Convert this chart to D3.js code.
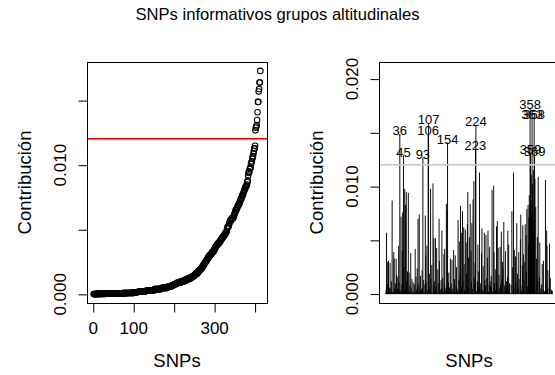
<!DOCTYPE html>
<html>
<head>
<meta charset="utf-8">
<script src="https://cdn.jsdelivr.net/npm/d3@7"></script>
<style>
  body { margin: 0; background: #fff; }
  svg { display: block; }
  text { font-family: "Liberation Sans", Arial, Helvetica, sans-serif; fill: #000; }
</style>
</head>
<body>
<svg id="chart" width="555" height="375"></svg>
<script>
// Contribution of each SNP, in SNP order (index 1..413)
const contributions = [
  0.00005, 0.0004, 0.0057, 0.00012, 0.0009, 0.0030, 0.0002, 0.0031, 0.00008, 0.0006,
  0.0003, 0.0029, 0.00003, 0.0006, 0.0012, 0.00010, 0.0087, 0.0002, 0.00015, 0.00004,
  0.0039, 0.0033, 0.0005, 0.00006, 0.0010, 0.00025, 0.0033, 0.0018, 0.00009, 0.0005,
  0.0016, 0.00002, 0.0045, 0.0011, 0.0003, 0.0149, 0.0004, 0.00007, 0.0072, 0.00018,
  0.0009, 0.0040, 0.0076, 0.00011, 0.0129, 0.0026, 0.00045, 0.0098, 0.0002, 0.0083,
  0.0005, 0.0095, 0.0012, 0.00004, 0.0021, 0.00030, 0.0094, 0.0003, 0.0020, 0.00008,
  0.0008, 0.00006, 0.0038, 0.00055, 0.00010, 0.0014, 0.00003, 0.00022, 0.0011, 0.00005,
  0.0002, 0.0009, 0.00007, 0.0042, 0.00011, 0.0016, 0.0004, 0.00002, 0.0024, 0.00065,
  0.0070, 0.00009, 0.0010, 0.0074, 0.0003, 0.00004, 0.0017, 0.00040, 0.00006, 0.0005,
  0.0022, 0.00050, 0.0127, 0.00008, 0.0013, 0.0002, 0.00005, 0.0009, 0.0073, 0.0036,
  0.0011, 0.00003, 0.0045, 0.00035, 0.00007, 0.0149, 0.0159, 0.0006, 0.0019, 0.00010,
  0.0004, 0.0098, 0.0014, 0.00005, 0.0027, 0.00015, 0.00002, 0.0103, 0.0008, 0.0052,
  0.00009, 0.0012, 0.0003, 0.0052, 0.00006, 0.00070, 0.0043, 0.0002, 0.00004, 0.0023,
  0.0010, 0.00011, 0.0070, 0.0031, 0.0002, 0.00045, 0.00008, 0.0013, 0.0005, 0.0059,
  0.00003, 0.0015, 0.00028, 0.00010, 0.0037, 0.0009, 0.0042, 0.0004, 0.00006, 0.00060,
  0.0084, 0.0003, 0.0078, 0.0141, 0.00005, 0.0011, 0.0020, 0.00009, 0.0006, 0.00016,
  0.0033, 0.00002, 0.0010, 0.0004, 0.0032, 0.00007, 0.00050, 0.00020, 0.0041, 0.00011,
  0.0014, 0.0002, 0.0036, 0.00004, 0.0008, 0.0025, 0.0005, 0.00008, 0.00030, 0.0069,
  0.00006, 0.0013, 0.0049, 0.0003, 0.0018, 0.0082, 0.00010, 0.00075, 0.0057, 0.00040,
  0.0077, 0.0012, 0.00003, 0.0062, 0.0028, 0.0004, 0.00025, 0.0060, 0.00009, 0.0048,
  0.0019, 0.00005, 0.0065, 0.0095, 0.0006, 0.0034, 0.0002, 0.0053, 0.00008, 0.0084,
  0.00007, 0.0040, 0.0011, 0.0066, 0.0005, 0.00012, 0.0088, 0.00004, 0.0105, 0.0016,
  0.0009, 0.0029, 0.0135, 0.0157, 0.0003, 0.00010, 0.00003, 0.0012, 0.0046, 0.0007,
  0.0021, 0.00002, 0.0113, 0.0005, 0.0010, 0.00008, 0.00020, 0.0038, 0.0061, 0.00011,
  0.0004, 0.0026, 0.00006, 0.00030, 0.0057, 0.0013, 0.00005, 0.0008, 0.0055, 0.00010,
  0.0015, 0.00018, 0.0034, 0.0059, 0.0002, 0.00004, 0.0009, 0.0044, 0.00003, 0.0007,
  0.0012, 0.0017, 0.0006, 0.0097, 0.00025, 0.00009, 0.00007, 0.0101, 0.0039, 0.0010,
  0.00005, 0.0023, 0.0004, 0.0003, 0.0063, 0.0011, 0.0068, 0.00007, 0.0043, 0.00011,
  0.0018, 0.00050, 0.00002, 0.0044, 0.0009, 0.00015, 0.0058, 0.0014, 0.00004, 0.0030,
  0.0024, 0.00008, 0.0067, 0.0002, 0.0008, 0.00006, 0.0040, 0.00040, 0.0007, 0.0012,
  0.00006, 0.0016, 0.0059, 0.00030, 0.0046, 0.0004, 0.0010, 0.00010, 0.00005, 0.00003,
  0.0009, 0.00005, 0.0077, 0.00002, 0.0025, 0.00020, 0.0113, 0.0006, 0.0041, 0.00009,
  0.00007, 0.0035, 0.0011, 0.00004, 0.0066, 0.0003, 0.0019, 0.00011, 0.0005, 0.0039,
  0.0014, 0.00010, 0.00008, 0.0051, 0.0074, 0.00002, 0.00025, 0.0008, 0.0027, 0.0064,
  0.00045, 0.0037, 0.0013, 0.00006, 0.0030, 0.0065, 0.00010, 0.0055, 0.0020, 0.0079,
  0.00013, 0.0007, 0.0083, 0.0047, 0.0071, 0.0092, 0.0080, 0.0173, 0.0131, 0.0085,
  0.0111, 0.0075, 0.0164, 0.0102, 0.0069, 0.0115, 0.0058, 0.0164, 0.0130, 0.0107,
  0.00004, 0.0081, 0.0002, 0.0033, 0.00007, 0.0053, 0.0012, 0.0109, 0.00003, 0.00009,
  0.0016, 0.0048, 0.0005, 0.00015, 0.00003, 0.0009, 0.00008, 0.0028, 0.00005, 0.0004,
  0.0031, 0.00006, 0.0003, 0.0002, 0.00010, 0.0106, 0.0010, 0.00030, 0.0059, 0.0045,
  0.0005, 0.0022, 0.00003, 0.00006, 0.0006, 0.0047, 0.00009, 0.0015, 0.00004, 0.00028,
  0.0004, 0.00011, 0.0003
];

// Cut-off above which a SNP counts as informative
const threshold = 0.012;

// Axis ticks and their printed labels (empty string = tick without label)
const leftXTicks = [0, 100, 200, 300, 400];
const leftXTickLabels = ["0", "100", "", "300", ""];
const leftYTicks = [0, 0.005, 0.010, 0.015];
const leftYTickLabels = ["0.000", "", "0.010", ""];
const rightYTicks = [0, 0.005, 0.010, 0.015, 0.020];
const rightYTickLabels = ["0.000", "", "0.010", "", "0.020"];

const titleText = "SNPs informativos grupos altitudinales";
const xTitle = "SNPs";
const yTitle = "Contribución";

const svg = d3.select("#chart");
const n = contributions.length;
const sorted = d3.sort(contributions);

// Plot boxes of the two panels
const leftBox = { x0: 87, x1: 267, y0: 62, y1: 303 };
const rightBox = { x0: 379, x1: 559, y0: 62, y1: 303 };

// Pad a data range by 4% on each side
function padded(lo, hi) {
  const r = hi - lo;
  return [lo - 0.04 * r, hi + 0.04 * r];
}

const xDomain = padded(1, n);
const xLeft = d3.scaleLinear().domain(xDomain).range([leftBox.x0, leftBox.x1]);
const xRight = d3.scaleLinear().domain(xDomain).range([rightBox.x0, rightBox.x1]);

const [minC, maxC] = d3.extent(contributions);
const yLeft = d3.scaleLinear().domain(padded(minC, maxC)).range([leftBox.y1, leftBox.y0]);
const yRight = d3.scaleLinear().domain(padded(0, maxC * 1.2)).range([rightBox.y1, rightBox.y0]);

const fsTick = 17, fsTitle = 18.5;

// Title
svg.append("text")
  .attr("x", 277.5).attr("y", 20)
  .attr("text-anchor", "middle")
  .attr("font-size", 16.6)
  .text(titleText);

function drawFrame(box, y, yTicks, yLabels) {
  // y axis ticks
  const gy = svg.append("g").attr("transform", `translate(${box.x0 + 0.5},0)`);
  gy.call(d3.axisLeft(y).tickValues(yTicks).tickSize(9).tickSizeOuter(0).tickFormat(""));
  gy.select(".domain").remove();
  gy.selectAll(".tick line").attr("stroke", "#000").attr("stroke-width", 1);

  // rotated y tick labels
  yTicks.forEach((t, i) => {
    if (!yLabels[i]) return;
    svg.append("text")
      .attr("transform", `translate(${box.x0 - 21.5},${y(t)}) rotate(-90)`)
      .attr("text-anchor", "middle")
      .attr("font-size", fsTick)
      .text(yLabels[i]);
  });

  // box
  svg.append("rect")
    .attr("x", box.x0 + 0.5).attr("y", box.y0 + 0.5)
    .attr("width", box.x1 - box.x0).attr("height", box.y1 - box.y0)
    .attr("fill", "none").attr("stroke", "#000").attr("stroke-width", 1);

  // axis titles
  svg.append("text")
    .attr("x", (box.x0 + box.x1) / 2).attr("y", 366.5)
    .attr("text-anchor", "middle")
    .attr("font-size", fsTitle)
    .text(xTitle);
  svg.append("text")
    .attr("transform", `translate(${box.x0 - 56},${(box.y0 + box.y1) / 2}) rotate(-90)`)
    .attr("text-anchor", "middle")
    .attr("font-size", fsTitle)
    .text(yTitle);
}

// ---------- Left panel: sorted contributions ----------
drawFrame(leftBox, yLeft, leftYTicks, leftYTickLabels);

const gx = svg.append("g").attr("transform", `translate(0,${leftBox.y1 + 0.5})`);
gx.call(d3.axisBottom(xLeft).tickValues(leftXTicks).tickSize(9).tickSizeOuter(0).tickFormat(""));
gx.select(".domain").remove();
gx.selectAll(".tick line").attr("stroke", "#000");
leftXTicks.forEach((t, i) => {
  if (!leftXTickLabels[i]) return;
  svg.append("text")
    .attr("x", xLeft(t)).attr("y", 333.5)
    .attr("text-anchor", "middle")
    .attr("font-size", fsTick)
    .text(leftXTickLabels[i]);
});

svg.append("g")
  .selectAll("circle")
  .data(sorted)
  .join("circle")
  .attr("cx", (d, i) => xLeft(i + 1))
  .attr("cy", d => yLeft(d))
  .attr("r", 2.8)
  .attr("fill", "none")
  .attr("stroke", "#000")
  .attr("stroke-width", 1.05);

// threshold, drawn as a filled strip so its colour stays solid
svg.append("rect")
  .attr("x", leftBox.x0 + 1).attr("width", leftBox.x1 - leftBox.x0 - 1)
  .attr("y", Math.round(yLeft(threshold)) - 1).attr("height", 1.6)
  .attr("fill", "#ff0000");

// ---------- Right panel: contributions in SNP order ----------
drawFrame(rightBox, yRight, rightYTicks, rightYTickLabels);

svg.append("g")
  .selectAll("line")
  .data(contributions)
  .join("line")
  .attr("x1", (d, i) => xRight(i + 1))
  .attr("x2", (d, i) => xRight(i + 1))
  .attr("y1", yRight(0))
  .attr("y2", d => yRight(d))
  .attr("stroke", "#000")
  .attr("stroke-width", 0.95);

svg.append("rect")
  .attr("x", rightBox.x0 + 1).attr("width", rightBox.x1 - rightBox.x0 - 1)
  .attr("y", Math.round(yRight(threshold)) - 1).attr("height", 1.6)
  .attr("fill", "#c8c8c8");

const informative = contributions
  .map((v, i) => ({ snp: i + 1, v }))
  .filter(d => d.v > threshold);

svg.append("g")
  .selectAll("text")
  .data(informative)
  .join("text")
  .attr("x", d => xRight(d.snp))
  .attr("y", d => yRight(d.v) - 3.5)
  .attr("dy", "0.36em")
  .attr("text-anchor", "middle")
  .attr("font-size", 13)
  .text(d => d.snp);
</script>
</body>
</html>
